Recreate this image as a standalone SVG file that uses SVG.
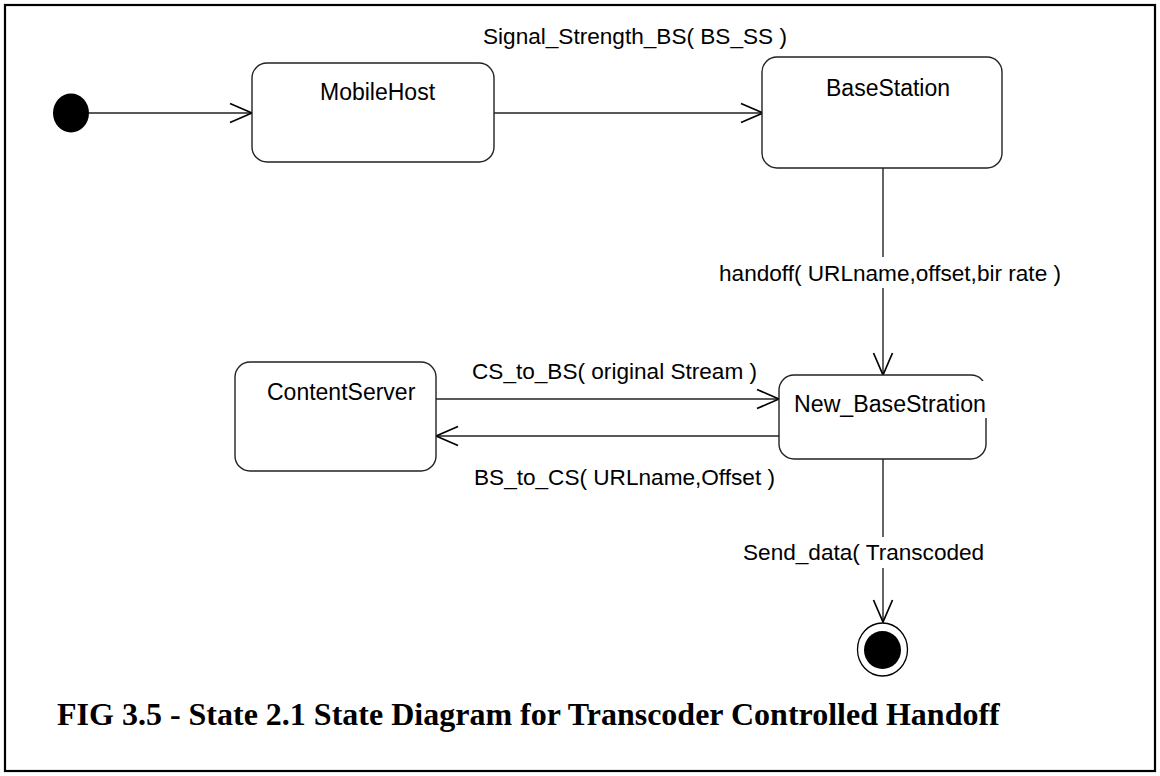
<svg xmlns="http://www.w3.org/2000/svg" width="1160" height="776" viewBox="0 0 1160 776">
<style>
.box{fill:#fff;stroke:#222;stroke-width:1.4}
.name{font-family:"Liberation Sans",Arial,sans-serif;font-size:23px;fill:#000}
.lbl{font-family:"Liberation Sans",Arial,sans-serif;font-size:22.6px;fill:#000}
.edge{fill:none;stroke:#222;stroke-width:1.4}
.title{font-family:"Liberation Serif","Times New Roman",serif;font-weight:bold;font-size:32px;fill:#000}
</style>
<defs>
<marker id="open" viewBox="-24 -12 26 24" refX="0" refY="0" markerWidth="26" markerHeight="24" markerUnits="userSpaceOnUse" orient="auto">
<path d="M-22,-9.5 L0,0 L-22,9.5" fill="none" stroke="#000" stroke-width="1.7"/>
</marker>
</defs>
<rect x="5" y="5" width="1150" height="766" fill="#fff" stroke="#000" stroke-width="2.2"/>

<g id="connectors">
<line class="edge" x1="89" y1="113" x2="252" y2="113" marker-end="url(#open)"/>
<line class="edge" x1="494" y1="113" x2="763" y2="113" marker-end="url(#open)"/>
<line class="edge" x1="883" y1="168" x2="883" y2="257"/>
<line class="edge" x1="883" y1="288" x2="883" y2="375" marker-end="url(#open)"/>
<line class="edge" x1="436" y1="399" x2="779" y2="399" marker-end="url(#open)"/>
<line class="edge" x1="779" y1="436" x2="436" y2="436" marker-end="url(#open)"/>
<line class="edge" x1="883" y1="459" x2="883" y2="537"/>
<line class="edge" x1="883" y1="568" x2="883" y2="622" marker-end="url(#open)"/>
<text class="lbl" x="483" y="44">Signal_Strength_BS( BS_SS )</text>
<text class="lbl" x="719" y="281">handoff( URLname,offset,bir rate )</text>
<text class="lbl" x="472" y="379">CS_to_BS( original Stream )</text>
<text class="lbl" x="474" y="485">BS_to_CS( URLname,Offset )</text>
<text class="lbl" x="743" y="560">Send_data( Transcoded</text>
</g>

<g id="initial">
<ellipse cx="71" cy="113" rx="18" ry="19.5" fill="#000"/>
</g>

<g id="MobileHost">
<rect class="box" x="252" y="63" width="242" height="99" rx="15" ry="15"/>
<text class="name" x="320" y="100">MobileHost</text>
</g>

<g id="BaseStation">
<rect class="box" x="762" y="57" width="240" height="111" rx="15" ry="15"/>
<text class="name" x="826" y="96">BaseStation</text>
</g>

<g id="ContentServer">
<rect class="box" x="235" y="362" width="201" height="109" rx="15" ry="15"/>
<text class="name" x="267" y="400">ContentServer</text>
</g>

<g id="New_BaseStration">
<rect class="box" x="779" y="375" width="207" height="84" rx="15" ry="15"/>
<rect x="792" y="381" width="197" height="37" fill="#fff"/>
<text class="name" x="794" y="412" textLength="192" lengthAdjust="spacingAndGlyphs">New_BaseStration</text>
</g>

<g id="final">
<ellipse cx="882.5" cy="649.5" rx="25" ry="26.5" fill="#fff" stroke="#000" stroke-width="1.3"/>
<ellipse cx="882.5" cy="650" rx="18.5" ry="19" fill="#000"/>
</g>

<text class="title" x="57" y="725">FIG 3.5 - State 2.1 State Diagram for Transcoder Controlled Handoff</text>
</svg>
